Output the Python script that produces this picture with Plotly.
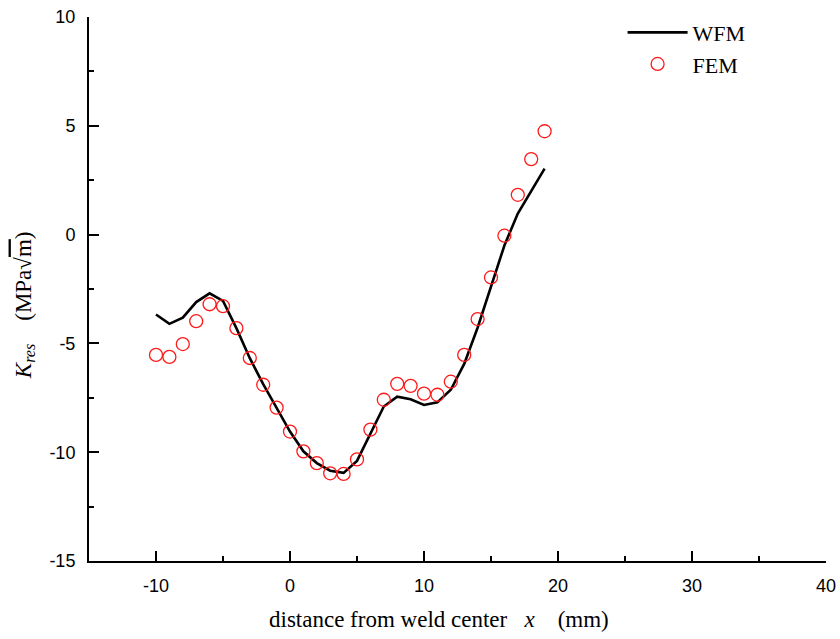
import plotly.graph_objects as go

wfm_x = [-10, -9, -8, -7, -6, -5, -4, -3, -2, -1, 0, 1, 2, 3, 4, 5, 6, 7, 8, 9, 10, 11, 12, 13, 14, 15, 16, 17, 18, 19]
wfm_y = [-3.67, -4.1, -3.82, -3.1, -2.7, -3.05, -4.3, -5.68, -6.87, -7.95, -9.05, -9.96, -10.5, -10.85, -10.95, -10.4, -9.14, -7.9, -7.45, -7.57, -7.83, -7.71, -7.13, -5.94, -4.28, -2.38, -0.5, 0.97, 1.97, 3.03]

fem_x = [-10, -9, -8, -7, -6, -5, -4, -3, -2, -1, 0, 1, 2, 3, 4, 5, 6, 7, 8, 9, 10, 11, 12, 13, 14, 15, 16, 17, 18, 19]
fem_y = [-5.53, -5.62, -5.03, -3.98, -3.2, -3.29, -4.3, -5.67, -6.9, -7.95, -9.05, -9.96, -10.5, -10.97, -11.0, -10.33, -8.96, -7.59, -6.86, -6.95, -7.31, -7.36, -6.76, -5.53, -3.88, -1.97, -0.05, 1.83, 3.47, 4.75]

x_ticks = [-10, 0, 10, 20, 30, 40]
y_ticks = [-15, -10, -5, 0, 5, 10]

serif = "Liberation Serif, Times New Roman, serif"

fig = go.Figure()
fig.add_trace(go.Scatter(x=wfm_x, y=wfm_y, mode="lines", name="WFM",
                         line=dict(color="black", width=2.6)))
fig.add_trace(go.Scatter(x=fem_x, y=fem_y, mode="markers", name="FEM",
                         marker=dict(symbol="circle-open", size=13, color="#ff1a1a",
                                     line=dict(width=1.3, color="#ff1a1a"))))

axis_common = dict(showgrid=False, zeroline=False, showline=True, linecolor="black",
                   linewidth=2, ticks="inside", ticklen=10, tickwidth=2, tickcolor="black",
                   tickfont=dict(family="Liberation Sans, Arial", size=18, color="black"),
                   mirror=False, automargin=False)

fig.update_xaxes(range=[-15, 40], tickvals=x_ticks, ticktext=[str(v) for v in x_ticks],
                 minor=dict(ticks="inside", ticklen=5, tickwidth=2, tickcolor="black", dtick=5, tick0=0),
                 ticklabelstandoff=7,
                 **axis_common)
fig.update_yaxes(range=[-15, 10], tickvals=y_ticks, ticktext=[str(v) for v in y_ticks],
                 minor=dict(ticks="inside", ticklen=5, tickwidth=2, tickcolor="black", dtick=2.5, tick0=0),
                 ticklabelstandoff=8,
                 **axis_common)

fig.add_annotation(text="distance from weld center   <i>x</i>    (mm)",
                   xref="paper", yref="paper", x=0.475, y=-0.108, xanchor="center", yanchor="middle",
                   showarrow=False,
                   font=dict(family=serif, size=23, color="black"))
fig.add_annotation(text="<i>K</i><sub><i>res</i></sub>    (MPa√<span style='text-decoration:overline'>m</span>)",
                   xref="paper", yref="paper", x=-0.087, y=0.47, xanchor="center", yanchor="middle",
                   textangle=-90, showarrow=False,
                   font=dict(family=serif, size=23, color="black"))

fig.update_layout(
    width=840, height=639,
    margin=dict(l=89, r=14, t=14, b=78),
    plot_bgcolor="white", paper_bgcolor="white",
    showlegend=True,
    legend=dict(x=0.724, y=1.01, xanchor="left", yanchor="top",
                font=dict(family=serif, size=22, color="black"),
                bgcolor="rgba(0,0,0,0)", itemwidth=60, tracegroupgap=0),
)

fig.write_html("out.html")
